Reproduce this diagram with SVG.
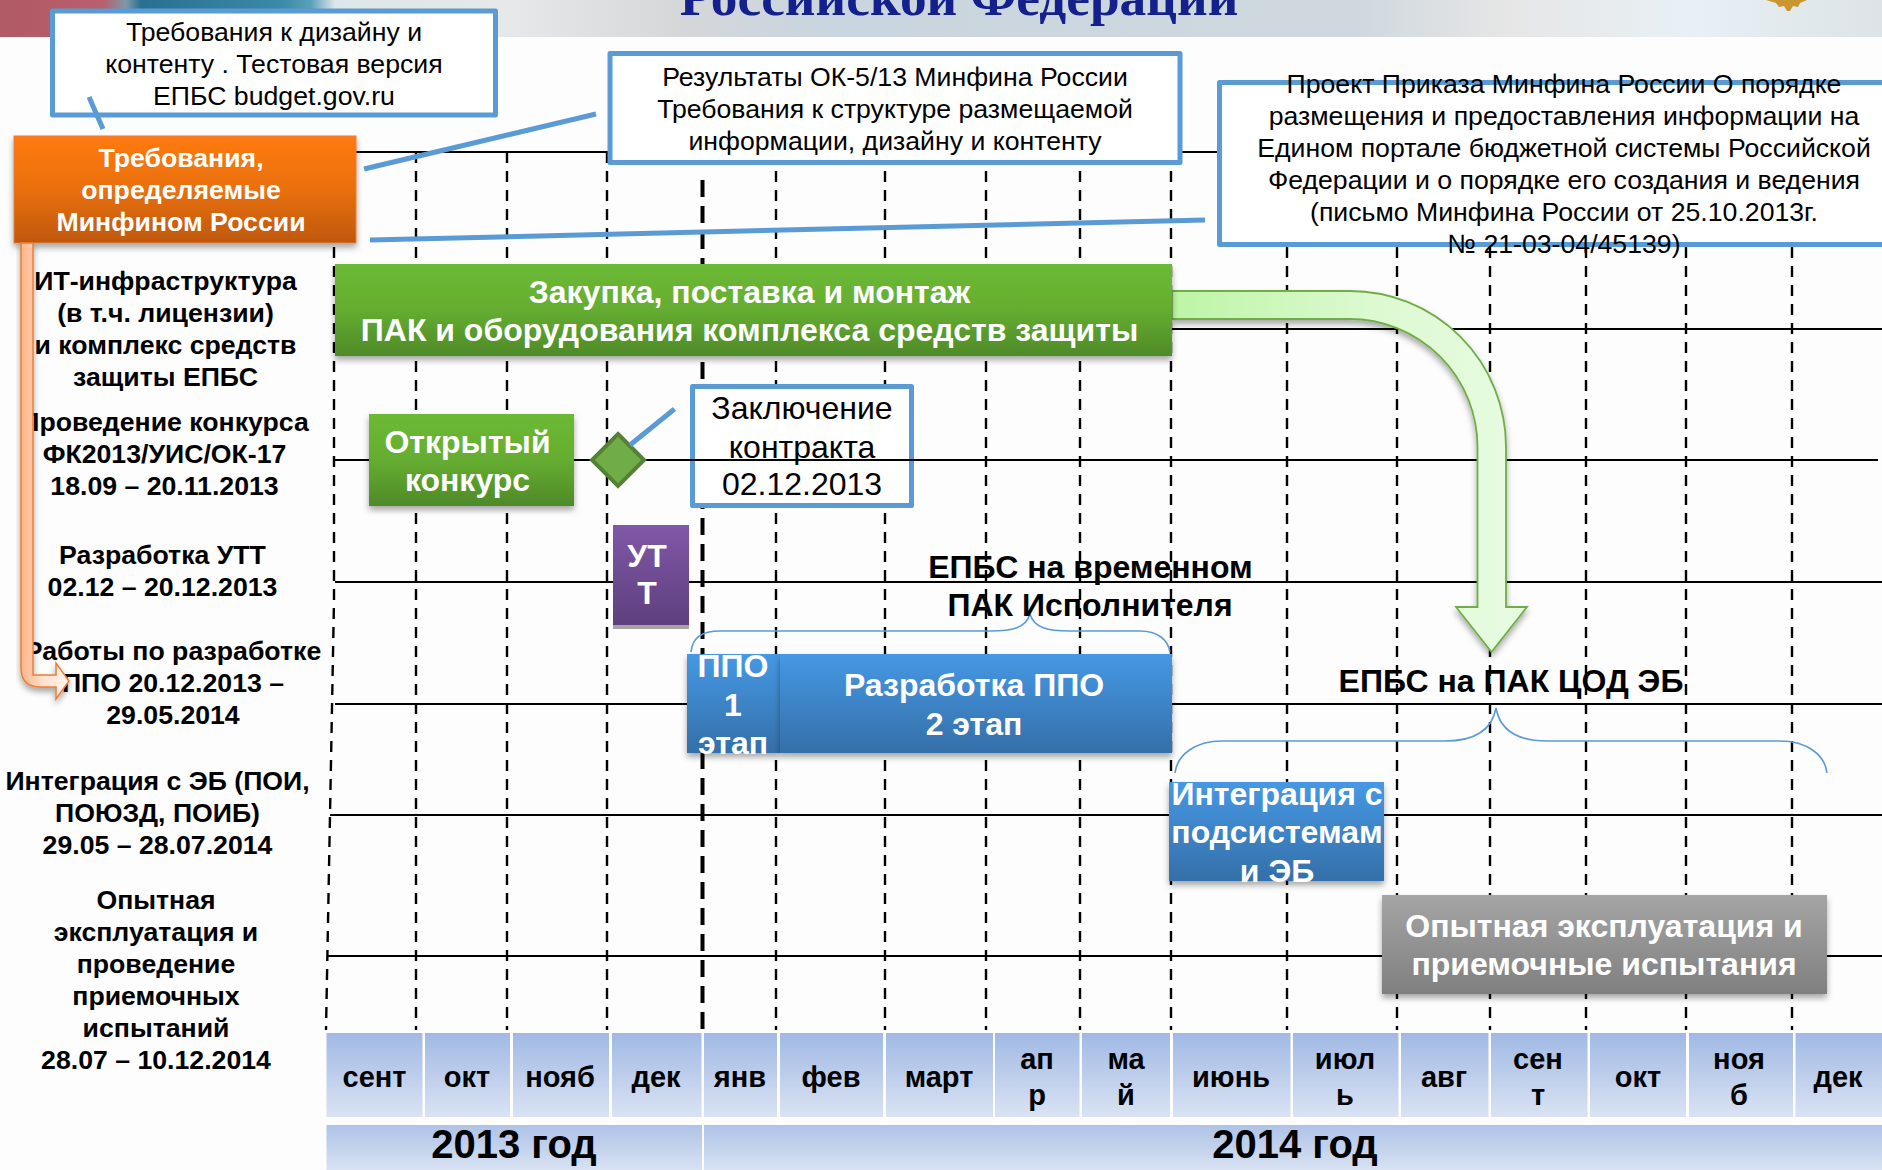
<svg xmlns="http://www.w3.org/2000/svg" width="1882" height="1170" viewBox="0 0 1882 1170">
<style>
text{font-family:"Liberation Sans",Arial,sans-serif;text-anchor:middle}
.r{font-size:26.67px;fill:#000}
.b{font-size:26.67px;font-weight:bold;fill:#000}
.w{font-size:26.67px;font-weight:bold;fill:#fff}
.wl{font-size:32px;font-weight:bold;fill:#fff}
.bl{font-size:32px;font-weight:bold;fill:#000}
.m{font-size:29px;font-weight:bold;fill:#000}
.y{font-size:40px;font-weight:bold;fill:#000}
.c{font-size:32px;fill:#000}
.t{font-family:"Liberation Serif",serif;font-size:53.300px;font-weight:bold;fill:#14208c}
.note{fill:#fff;stroke:#5b9bd5;stroke-width:5;stroke-linejoin:round}
.lead{fill:none;stroke:#5b9bd5;stroke-width:5}
.brace{fill:none;stroke:#5b9bd5;stroke-width:1.6}
.d{stroke:#000;stroke-width:2.4;stroke-dasharray:11 8;fill:none}
.dt{stroke:#000;stroke-width:4;stroke-dasharray:17 9;fill:none}
.h{stroke:#000;stroke-width:2;fill:none}
.cell{fill:url(#gM)}
.year{fill:url(#gY)}
</style>
<defs>
<linearGradient id="gH" x1="0" x2="1" y1="0" y2="0">
<stop offset="0" stop-color="#b05a66"/><stop offset=".055" stop-color="#b8606c"/><stop offset=".067" stop-color="#7f98a8"/><stop offset=".075" stop-color="#2a7090"/><stop offset=".15" stop-color="#3a8aa8"/><stop offset=".165" stop-color="#5aa0b8"/><stop offset=".178" stop-color="#dfe5e8"/><stop offset=".27" stop-color="#e6e8ea"/><stop offset=".36" stop-color="#d5d7d9"/><stop offset=".44" stop-color="#c9d5df"/><stop offset=".72" stop-color="#cfd8de"/><stop offset=".8" stop-color="#e6e6e6"/><stop offset=".9" stop-color="#e8f0f5"/><stop offset="1" stop-color="#dde3e6"/>
</linearGradient>
<linearGradient id="gO" x1="0" x2="0" y1="0" y2="1"><stop offset="0" stop-color="#ff7a12"/><stop offset=".5" stop-color="#e9700f"/><stop offset="1" stop-color="#bf5810"/></linearGradient>
<linearGradient id="gG" x1="0" x2="0" y1="0" y2="1"><stop offset="0" stop-color="#6cb935"/><stop offset=".5" stop-color="#65ad30"/><stop offset="1" stop-color="#4e8a29"/></linearGradient>
<linearGradient id="gP" x1="0" x2="0" y1="0" y2="1"><stop offset="0" stop-color="#8058a8"/><stop offset="1" stop-color="#5f3f7e"/></linearGradient>
<linearGradient id="gB" x1="0" x2="0" y1="0" y2="1"><stop offset="0" stop-color="#4698e4"/><stop offset="1" stop-color="#346fa8"/></linearGradient>
<linearGradient id="gS" x1="0" x2="0" y1="0" y2="1"><stop offset="0" stop-color="#a5a5a5"/><stop offset="1" stop-color="#7f7f7f"/></linearGradient>
<linearGradient id="gM" x1="0" x2="0" y1="0" y2="1"><stop offset="0" stop-color="#a0b9e4"/><stop offset="1" stop-color="#dae3f3"/></linearGradient>
<linearGradient id="gY" x1="0" x2="0" y1="0" y2="1"><stop offset="0" stop-color="#aec3e7"/><stop offset="1" stop-color="#d8e2f2"/></linearGradient>
<linearGradient id="gA" gradientUnits="userSpaceOnUse" x1="1172" x2="1500" y1="300" y2="300"><stop offset="0" stop-color="#bdf5a5"/><stop offset=".6" stop-color="#dcf9d0"/><stop offset="1" stop-color="#e6fbdf"/></linearGradient>
<linearGradient id="gR" gradientUnits="userSpaceOnUse" x1="20" x2="69" y1="0" y2="0"><stop offset="0" stop-color="#fbb184"/><stop offset=".5" stop-color="#ffe3d2"/><stop offset="1" stop-color="#fff4ec"/></linearGradient>
<filter id="sh" x="-10%" y="-10%" width="120%" height="130%"><feDropShadow dx="0" dy="4" stdDeviation="3" flood-color="#000" flood-opacity=".35"/></filter>
</defs>
<rect width="1882" height="1170" fill="#fdfdfd"/>
<g id="header">
<rect width="1882" height="37" fill="url(#gH)"/>
<text class="t" x="959" y="15">Российской Федерации</text>
<path d="M1766,0H1807L1800,3L1798,7L1793,6L1790,11L1787,11L1784,6L1779,7L1776,3Z" fill="#c9962f"/>
</g>
<g id="grid">
<path class="d" d="M334,152V600L326,1030"/>
<path class="d" d="M416,152V1030M507,152V1030M607,152V1030M776,152V1030M885,152V1030M986,152V1030M1080,152V1030M1171,152V1030M1287,152V1030M1397,152V1030M1490,152V1030M1586,152V1030M1686,152V1030M1792,152V1030"/>
<path class="dt" d="M702.500,180V1030"/>
<path class="h" d="M356,152H1217M334,329H1882M333,460H1878M335,582H1882M335,704H1882M330,815H1882M328,956H1882"/>
</g>
<g id="label-it"><text class="b" x="165.500" y="290">ИТ-инфраструктура</text><text class="b" x="165.500" y="322">(в т.ч. лицензии)</text><text class="b" x="165.500" y="354">и комплекс средств</text><text class="b" x="165.500" y="386">защиты ЕПБС</text></g>
<g id="label-contest"><text class="b" x="164.500" y="431">Проведение конкурса</text><text class="b" x="164.500" y="463">ФК2013/УИС/ОК-17</text><text class="b" x="164.500" y="495">18.09 – 20.11.2013</text></g>
<g id="label-utt"><text class="b" x="162.500" y="564">Разработка УТТ</text><text class="b" x="162.500" y="596">02.12 – 20.12.2013</text></g>
<g id="label-ppo"><text class="b" x="173" y="660">Работы по разработке</text><text class="b" x="173" y="692">ППО 20.12.2013 –</text><text class="b" x="173" y="724">29.05.2014</text></g>
<g id="label-integration"><text class="b" x="157.500" y="790">Интеграция с ЭБ (ПОИ,</text><text class="b" x="157.500" y="822">ПОЮЗД, ПОИБ)</text><text class="b" x="157.500" y="854">29.05 – 28.07.2014</text></g>
<g id="label-trial"><text class="b" x="156" y="909">Опытная</text><text class="b" x="156" y="941">эксплуатация и</text><text class="b" x="156" y="973">проведение</text><text class="b" x="156" y="1005">приемочных</text><text class="b" x="156" y="1037">испытаний</text><text class="b" x="156" y="1069">28.07 – 10.12.2014</text></g>
<g id="months">
<g id="month-cells">
<rect class="cell" x="326.500" y="1033" width="96" height="84"/><rect class="cell" x="425" y="1033" width="85" height="84"/><rect class="cell" x="513" y="1033" width="96" height="84"/><rect class="cell" x="612" y="1033" width="89.500" height="84"/><rect class="cell" x="704" y="1033" width="73" height="84"/><rect class="cell" x="780" y="1033" width="103" height="84"/><rect class="cell" x="886" y="1033" width="107" height="84"/><rect class="cell" x="995" y="1033" width="84.500" height="84"/><rect class="cell" x="1082" y="1033" width="88" height="84"/><rect class="cell" x="1173" y="1033" width="117.500" height="84"/><rect class="cell" x="1293" y="1033" width="105.500" height="84"/><rect class="cell" x="1401" y="1033" width="87.500" height="84"/><rect class="cell" x="1491" y="1033" width="96.500" height="84"/><rect class="cell" x="1590" y="1033" width="96" height="84"/><rect class="cell" x="1689" y="1033" width="104" height="84"/><rect class="cell" x="1795.500" y="1033" width="86.500" height="84"/>
</g>
<text class="m" x="374.500" y="1087">сент</text><text class="m" x="467" y="1087">окт</text><text class="m" x="560" y="1087">нояб</text><text class="m" x="656" y="1087">дек</text><text class="m" x="740" y="1087">янв</text><text class="m" x="831" y="1087">фев</text><text class="m" x="939" y="1087">март</text>
<text class="m" x="1037" y="1069">ап</text><text class="m" x="1037" y="1105">р</text><text class="m" x="1126" y="1069">ма</text><text class="m" x="1126" y="1105">й</text>
<text class="m" x="1231" y="1087">июнь</text><text class="m" x="1345" y="1069">июл</text><text class="m" x="1345" y="1105">ь</text><text class="m" x="1444" y="1087">авг</text>
<text class="m" x="1538" y="1069">сен</text><text class="m" x="1538" y="1105">т</text><text class="m" x="1638" y="1087">окт</text><text class="m" x="1739" y="1069">ноя</text><text class="m" x="1739" y="1105">б</text><text class="m" x="1838" y="1087">дек</text>
<rect class="year" x="326.500" y="1125" width="375.500" height="45"/><rect class="year" x="704" y="1125" width="1178" height="45"/>
<text class="y" x="514" y="1158">2013 год</text><text class="y" x="1295" y="1158">2014 год</text>
</g>
<g id="note-design"><rect class="note" x="52.500" y="11" width="443" height="104"/><text class="r" x="274" y="41">Требования к дизайну и</text><text class="r" x="274" y="73">контенту . Тестовая версия</text><text class="r" x="274" y="105">ЕПБС budget.gov.ru</text></g>
<g id="requirements"><rect x="14" y="136" width="342" height="107" fill="url(#gO)" stroke="#ed7d31" stroke-width="1" filter="url(#sh)"/><text class="w" x="181" y="167">Требования,</text><text class="w" x="181" y="199">определяемые</text><text class="w" x="181" y="231">Минфином России</text></g>
<g id="note-results"><rect class="note" x="610" y="53.500" width="570" height="109"/><text class="r" x="895" y="86">Результаты ОК-5/13 Минфина России</text><text class="r" x="895" y="118">Требования к структуре размещаемой</text><text class="r" x="895" y="150">информации, дизайну и контенту</text></g>
<g id="note-order"><rect class="note" x="1219.500" y="82.500" width="680" height="162"/><text class="r" x="1564" y="93">Проект Приказа Минфина России О порядке</text><text class="r" x="1564" y="125">размещения и предоставления информации на</text><text class="r" x="1564" y="157">Едином портале бюджетной системы Российской</text><text class="r" x="1564" y="189">Федерации и о порядке его создания и ведения</text><text class="r" x="1564" y="221">(письмо Минфина России от 25.10.2013г.</text><text class="r" x="1564" y="253">№ 21-03-04/45139)</text></g>
<g id="bent-arrow"><path d="M1172,291H1350A156,156 0 0 1 1506,447V607H1527L1491.500,652L1456,607H1477.500V447A128,128 0 0 0 1350,319H1172Z" fill="url(#gA)" stroke="#70ad47" stroke-width="1.800" filter="url(#sh)"/></g>
<g id="bar-purchase"><rect x="335" y="264" width="837" height="92" fill="url(#gG)" filter="url(#sh)"/><text class="wl" x="749.500" y="303">Закупка, поставка и монтаж</text><text class="wl" x="749.500" y="341">ПАК и оборудования комплекса средств защиты</text></g>
<g id="bar-contest"><rect x="369" y="414" width="205" height="92" fill="url(#gG)" filter="url(#sh)"/><text class="wl" x="467.500" y="453">Открытый</text><text class="wl" x="467.500" y="491">конкурс</text></g>
<g id="milestone"><path d="M618,434L644,460L618,486L592,460Z" fill="#70ad47" stroke="#548235" stroke-width="4"/></g>
<g id="note-contract"><rect class="note" x="692.500" y="386.500" width="219" height="119"/><path class="h" d="M690,460H914"/><text class="c" x="802" y="419">Заключение</text><text class="c" x="802" y="458">контракта</text><text class="c" x="802" y="495">02.12.2013</text></g>
<g id="bar-utt"><rect x="613" y="525" width="76" height="104" fill="#a5a5a5"/><rect x="613" y="525" width="76" height="100" fill="url(#gP)"/><text class="wl" x="647" y="567">УТ</text><text class="wl" x="647" y="604">Т</text></g>
<g id="bar-ppo1"><rect x="687" y="654" width="93" height="99" fill="url(#gB)" filter="url(#sh)"/><text class="wl" x="733" y="677">ППО</text><text class="wl" x="733" y="716">1</text><text class="wl" x="733" y="754">этап</text></g>
<g id="bar-ppo2"><rect x="780" y="654" width="392" height="99" fill="url(#gB)" filter="url(#sh)"/><text class="wl" x="974" y="696">Разработка ППО</text><text class="wl" x="974" y="735">2 этап</text></g>
<g id="bar-integration"><rect x="1169" y="782" width="215" height="99" fill="url(#gB)" filter="url(#sh)"/><text class="wl" x="1277" y="805">Интеграция с</text><text class="wl" x="1277" y="843">подсистемам</text><text class="wl" x="1277" y="882">и ЭБ</text></g>
<g id="bar-trial"><rect x="1382" y="895" width="445" height="99" fill="url(#gS)" filter="url(#sh)"/><text class="wl" x="1604" y="937">Опытная эксплуатация и</text><text class="wl" x="1604" y="975">приемочные испытания</text></g>
<g id="connectors">
<path class="lead" d="M89,97L103,129"/>
<path class="lead" d="M364,169L596,114"/>
<path class="lead" d="M370,240L1205,220"/>
<path class="lead" d="M630,445L674.500,409"/>
<path class="brace" d="M691,652C692,640 700,631 720,631H990C1012,631 1026,628 1030,614C1034,628 1048,631 1070,631H1140C1158,631 1168,640 1170,652"/>
<path class="brace" d="M1175,773C1177,755 1195,741 1222,741H1445C1475,741 1492,730 1496,708C1500,730 1517,741 1547,741H1780C1807,741 1825,755 1827,773"/>
</g>
<g id="caption-temp"><text class="bl" x="1090.500" y="578">ЕПБС на временном</text><text class="bl" x="1090" y="616">ПАК Исполнителя</text></g>
<g id="caption-cod"><text class="bl" x="1511" y="692">ЕПБС на ПАК ЦОД ЭБ</text></g>
<g id="orange-arrow"><path d="M21,243V668Q21,687 40,687H56V699L69,681L56,663V675H33V243Z" fill="url(#gR)" stroke="#ed7d31" stroke-width="1.500" filter="url(#sh)"/></g>
</svg>
